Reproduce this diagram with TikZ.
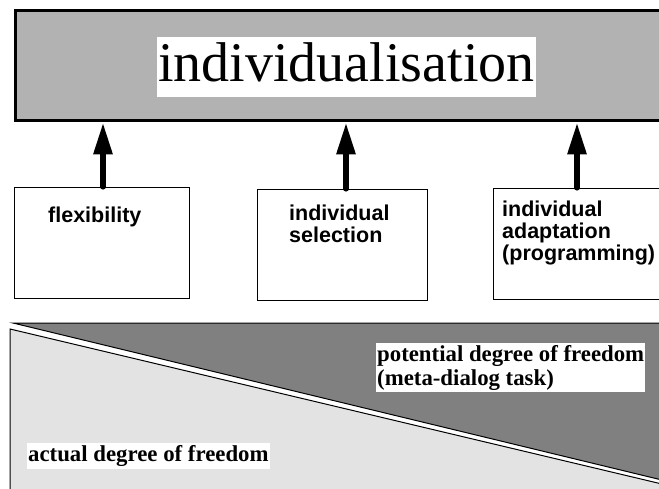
\documentclass[tikz,border=0pt]{standalone}
\usepackage{fontspec}
\setmainfont{Liberation Serif}
\setsansfont{Liberation Sans}
\usetikzlibrary{arrows.meta}

\definecolor{bargray}{gray}{0.70}
\definecolor{darkfree}{gray}{0.50}
\definecolor{lightfree}{gray}{0.89}

\tikzset{
  optionbox/.style={draw,line width=1.2pt,fill=white,minimum height=111pt,inner sep=0pt,anchor=north west},
  optiontext/.style={font=\sffamily\bfseries\fontsize{21.5}{22}\selectfont,align=left,anchor=base west,inner sep=0pt},
  uparrow/.style={line width=6pt,line cap=round,-{Triangle[length=32pt,width=18pt]}},
  freetext/.style={fill=white,font=\bfseries\fontsize{22.8}{24}\selectfont,align=left,inner xsep=1pt,inner ysep=2pt,anchor=north west}
}

\begin{document}
\begin{tikzpicture}[x=1pt,y=-1pt]
      \useasboundingbox (0,0) rectangle (659,489);

      \node[draw,line width=3pt,fill=bargray,minimum width=660pt,minimum height=110.5pt,inner sep=0pt,anchor=north west] (bar) at (13.5,9) {};
      \node[fill=white,inner sep=0pt,text height=45pt,text depth=15pt,minimum width=379pt,font=\fontsize{56}{60}\selectfont] (title) at (346.5,67) {individualisation};

      \node[optionbox,minimum width=175pt] (flex) at (13.6,186.6) {};
      \node[optionbox,minimum width=170pt] (select) at (256.6,188.6) {};
      \node[optionbox,minimum width=175pt] (adapt) at (492.6,187.6) {};

      % base of a multi-line node is its last line
      \node[optiontext] (flextext) at (48,223) {flexibility};
      \node[optiontext] (selecttext) at (289,243) {individual\\selection};
      \node[optiontext] (adapttext) at (502,261) {individual\\adaptation\\(programming)};

      \coordinate (flexin) at (103,186.6);
      \coordinate (selectin) at (346,188.6);
      \coordinate (adaptin) at (577,187.6);
      \draw[uparrow] (flexin) -- (flexin |- bar.south);
      \draw[uparrow] (selectin) -- (selectin |- bar.south);
      \draw[uparrow] (adaptin) -- (adaptin |- bar.south);

      % degrees of freedom
      \path[draw=black,line width=1pt,fill=darkfree] (13,323) -- (664,323) -- (664,480.5) -- cycle;
      \path[draw=black,line width=1pt,fill=lightfree] (10,329) -- (664,484.5) -- (664,495) -- (10,495) -- cycle;

      \node[freetext] (potential) at (376,343) {potential degree of freedom\\(meta-dialog task)};
      \node[freetext,text height=17pt,text depth=6pt,inner ysep=1.5pt] (actual) at (27,443) {actual degree of freedom};
    \end{tikzpicture}
\end{document}
